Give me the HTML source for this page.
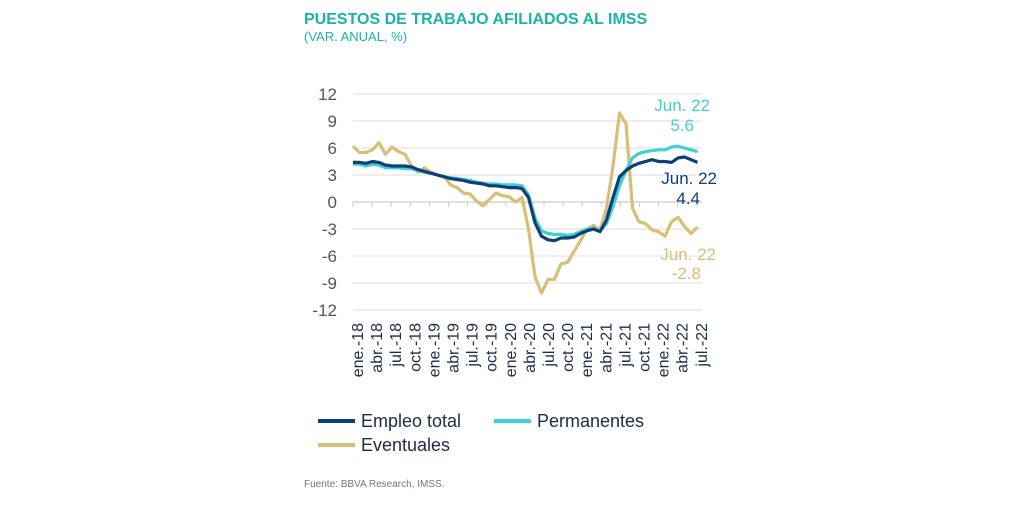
<!DOCTYPE html>
<html><head><meta charset="utf-8"><style>
body{margin:0;background:#fff;width:1024px;height:511px;overflow:hidden;font-family:"Liberation Sans",sans-serif;}
svg{position:absolute;left:0;top:0}
</style></head><body>
<svg width="1024" height="511">
<text x="304" y="24" font-size="16" font-weight="bold" fill="#1bb3a8">PUESTOS DE TRABAJO AFILIADOS AL IMSS</text>
<text x="304" y="41" font-size="13" fill="#1bb3a8">(VAR. ANUAL, %)</text>
<g id="grid"></g><g id="yt"></g><g id="xt"></g><g id="lines"></g>
<text x="710" y="111" font-size="17" fill="#3fd0d0" text-anchor="end">Jun. 22</text>
<text x="694" y="131" font-size="17" fill="#3fd0d0" text-anchor="end">5.6</text>
<text x="717" y="184" font-size="17" fill="#0f3f78" text-anchor="end">Jun. 22</text>
<text x="700" y="204" font-size="17" fill="#0f3f78" text-anchor="end">4.4</text>
<text x="716" y="260" font-size="17" fill="#d8bf76" text-anchor="end">Jun. 22</text>
<text x="701" y="279" font-size="17" fill="#d8bf76" text-anchor="end">-2.8</text>
<g>
<line x1="318" y1="421" x2="355" y2="421" stroke="#0f3f78" stroke-width="4"/>
<text x="361" y="427" font-size="18" fill="#1d2b45">Empleo total</text>
<line x1="494" y1="421" x2="531" y2="421" stroke="#3fd0d0" stroke-width="4"/>
<text x="537" y="427" font-size="18" fill="#1d2b45">Permanentes</text>
<line x1="318" y1="445" x2="355" y2="445" stroke="#d8bf76" stroke-width="4"/>
<text x="361" y="451" font-size="18" fill="#1d2b45">Eventuales</text>
</g>
<text x="304" y="487" font-size="10" fill="#777">Fuente: BBVA Research, IMSS.</text>
</svg>
<script>
const yTicks=[12,9,6,3,0,-3,-6,-9,-12];
const xLabels=["ene.-18","abr.-18","jul.-18","oct.-18","ene.-19","abr.-19","jul.-19","oct.-19","ene.-20","abr.-20","jul.-20","oct.-20","ene.-21","abr.-21","jul.-21","oct.-21","ene.-22","abr.-22","jul.-22"];
const total=[4.4,4.4,4.3,4.5,4.4,4.1,4.0,4.0,4.0,3.9,3.6,3.4,3.2,3.0,2.8,2.6,2.5,2.4,2.2,2.1,2.0,1.8,1.8,1.7,1.6,1.6,1.5,0.5,-2.3,-3.8,-4.2,-4.3,-4.0,-4.0,-3.9,-3.5,-3.2,-3.0,-3.3,-2.0,0.5,2.8,3.5,4.0,4.3,4.5,4.7,4.5,4.5,4.4,4.9,5.0,4.7,4.4];
const perm=[4.2,4.2,4.0,4.2,4.1,3.8,3.8,3.8,3.7,3.7,3.5,3.3,3.2,3.0,2.8,2.7,2.6,2.5,2.4,2.2,2.1,2.0,2.0,1.9,1.9,1.9,1.8,0.8,-1.8,-3.2,-3.5,-3.6,-3.6,-3.7,-3.6,-3.3,-3.0,-2.9,-3.2,-2.4,-0.5,1.8,3.5,4.9,5.4,5.6,5.7,5.8,5.8,6.1,6.2,6.0,5.8,5.6];
const event=[6.2,5.5,5.5,5.8,6.6,5.3,6.1,5.6,5.3,4.0,3.3,3.8,3.3,3.0,2.9,1.9,1.6,1.0,0.9,0.1,-0.4,0.3,1.0,0.7,0.6,0.0,0.5,-3.0,-8.3,-10.1,-8.6,-8.6,-6.9,-6.7,-5.5,-4.3,-3.0,-2.6,-3.1,-0.7,4.0,9.9,8.7,-0.7,-2.2,-2.4,-3.1,-3.3,-3.8,-2.2,-1.7,-2.7,-3.5,-2.8];
const NS="http://www.w3.org/2000/svg";
const X0=353,DX=6.5,Y0=202,DY=9;
const xs=m=>X0+DX*m, ys=v=>Y0-DY*v;
function mk(t,a,p){const e=document.createElementNS(NS,t);for(const k in a)e.setAttribute(k,a[k]);p.appendChild(e);return e;}
const grid=document.getElementById('grid'),yt=document.getElementById('yt'),xt=document.getElementById('xt'),lines=document.getElementById('lines');
yTicks.forEach(v=>{
 const l=mk('line',{x1:X0,x2:702,y1:ys(v),y2:ys(v),stroke:v===0?'#ccc':'#e3e3e3','stroke-width':1.3},grid);
 
 
 const t=mk('text',{x:337,y:ys(v)+6,'font-size':17,fill:'#555','text-anchor':'end'},yt);
 t.textContent=v;
 
 
});
xLabels.forEach((s,i)=>{
 const x=353+19.1*i;
 const tk=mk('line',{x1:x,x2:x,y1:Y0,y2:Y0+5,stroke:'#ccc'},grid);
 
 
 const t=mk('text',{x:0,y:0,'font-size':16,fill:'#1d2b45','text-anchor':'end',transform:`translate(${x+10},323) rotate(-90)`},xt);
 t.textContent=s;
 
 
});
[[event,'#d8bf76','eventuales-line'],[perm,'#3fd0d0','permanentes-line'],[total,'#0f3f78','empleo-total-line']].forEach(([d,c,n])=>{
 const p=mk('polyline',{points:d.map((v,i)=>xs(i)+','+ys(v)).join(' '),fill:'none',stroke:c,'stroke-width':3.2,'stroke-linejoin':'round'},lines);
 
 
});
</script>
</body></html>
